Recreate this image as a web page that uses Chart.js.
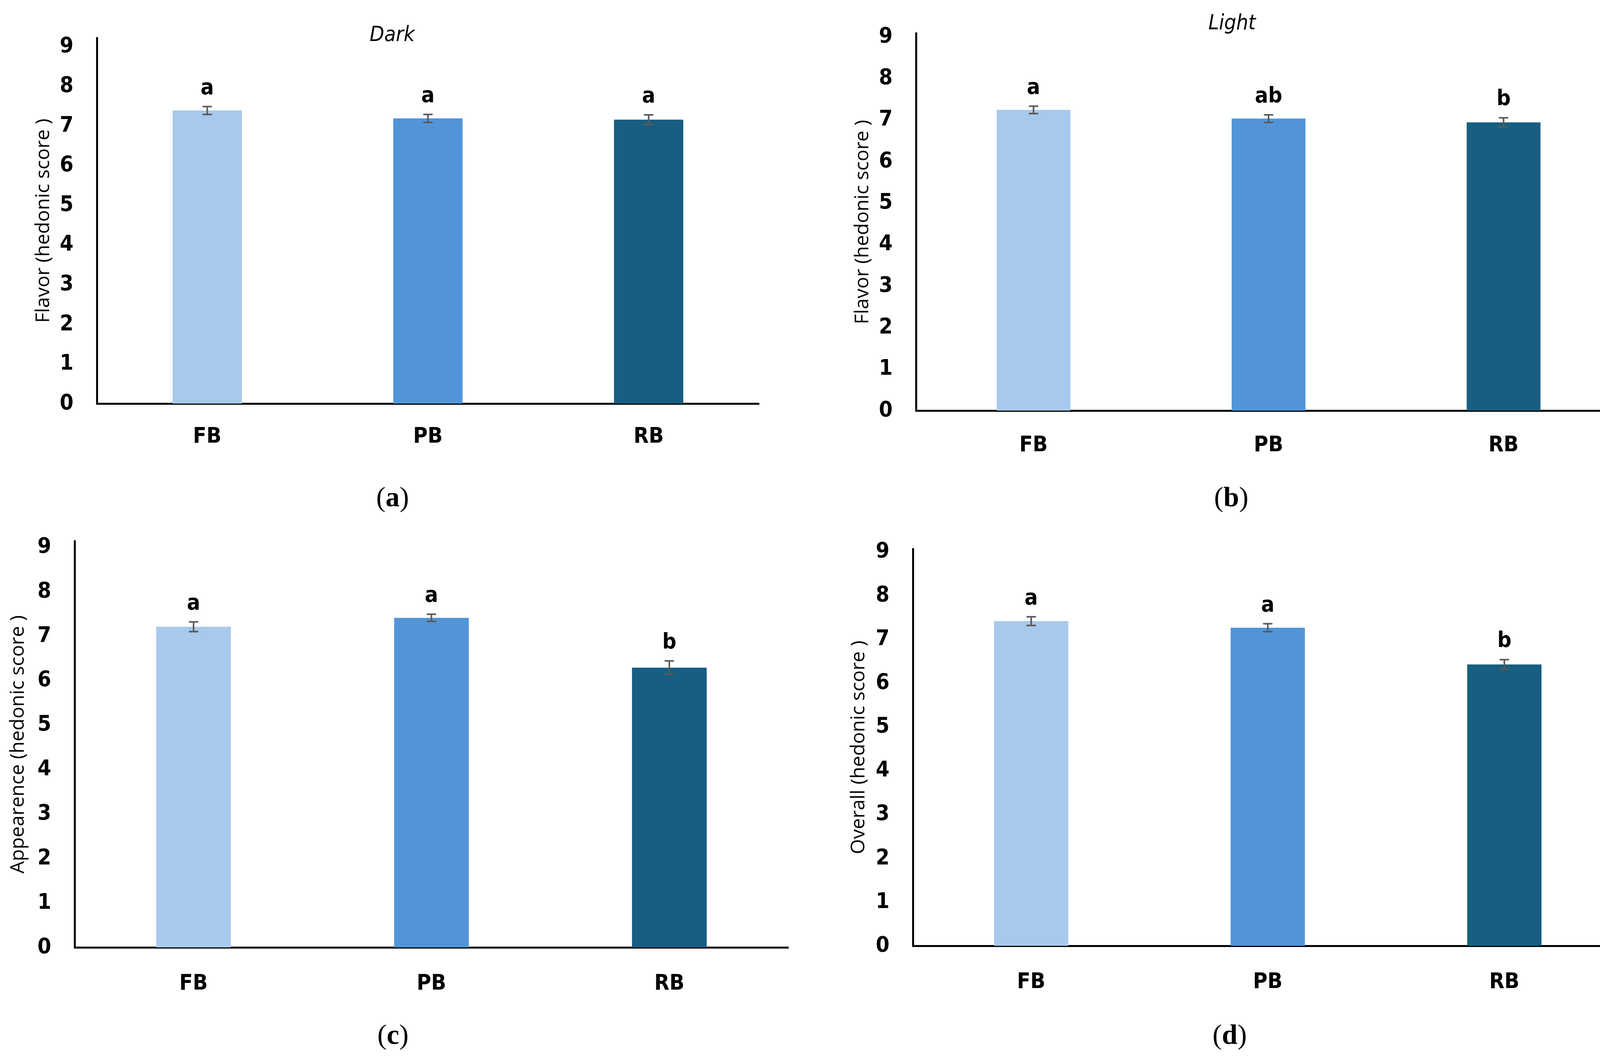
<!DOCTYPE html>
<html>
<head>
<meta charset="utf-8">
<script src="https://cdn.jsdelivr.net/npm/chart.js@4.4.1/dist/chart.umd.min.js"></script>
<style>
  html, body { margin: 0; padding: 0; background: #fff; }
  body { width: 4174px; height: 2703px; position: relative; overflow: hidden; }
  canvas { position: absolute; }
  .ttl { position: absolute; font: italic 54px "DejaVu Sans Condensed", "DejaVu Sans", sans-serif; line-height: 54px; transform: translateX(-50%); white-space: nowrap; }
  .lbl { position: absolute; font: 72px "Liberation Serif", serif; line-height: 72px; transform: translateX(-50%); white-space: nowrap; }
</style>
</head>
<body>
<canvas id="chartA" width="2087" height="1200" style="left:0;top:0"></canvas>
<canvas id="chartB" width="2087" height="1200" style="left:2087px;top:0"></canvas>
<canvas id="chartC" width="2087" height="1250" style="left:0;top:1300px"></canvas>
<canvas id="chartD" width="2087" height="1250" style="left:2087px;top:1300px"></canvas>

<div class="ttl" style="left:1004px;top:60px">Dark</div>
<div class="ttl" style="left:3154px;top:30px">Light</div>
<div class="lbl" style="left:1005px;top:1236px">(<b>a</b>)</div>
<div class="lbl" style="left:3152px;top:1236px">(<b>b</b>)</div>
<div class="lbl" style="left:1006px;top:2612px">(<b>c</b>)</div>
<div class="lbl" style="left:3148px;top:2612px">(<b>d</b>)</div>

<script>
// sample categories and y tick values
const categories = ['FB', 'PB', 'RB'];
const yTickValues = [0, 1, 2, 3, 4, 5, 6, 7, 8, 9];

// (a) flavor, dark
const darkFlavor = [7.39, 7.19, 7.16];
const darkFlavorErr = [0.10, 0.10, 0.12];
const darkFlavorLetters = ['a', 'a', 'a'];

// (b) flavor, light
const lightFlavor = [7.24, 7.03, 6.94];
const lightFlavorErr = [0.09, 0.09, 0.11];
const lightFlavorLetters = ['a', 'ab', 'b'];

// (c) appearance
const appearance = [7.21, 7.41, 6.29];
const appearanceErr = [0.11, 0.08, 0.15];
const appearanceLetters = ['a', 'a', 'b'];

// (d) overall
const overall = [7.42, 7.27, 6.43];
const overallErr = [0.10, 0.09, 0.11];
const overallLetters = ['a', 'a', 'b'];

const barColors = ['#A7C9EB', '#5195D8', '#175E80'];
const narrow = '"DejaVu Sans Condensed", "DejaVu Sans", sans-serif';

// draws the SE whiskers and the letter over each bar
const errorBars = {
    id: 'errorBars',
    afterDatasetsDraw(chart, args, opts) {
        const ctx = chart.ctx;
        const y = chart.scales.y;
        const values = chart.data.datasets[0].data;
        chart.getDatasetMeta(0).data.forEach((bar, i) => {
            const top = y.getPixelForValue(values[i] + opts.errors[i]);
            const bot = y.getPixelForValue(values[i] - opts.errors[i]);
            ctx.save();
            ctx.strokeStyle = '#595959';
            ctx.lineWidth = 4;
            ctx.beginPath();
            ctx.moveTo(bar.x, top); ctx.lineTo(bar.x, bot);
            ctx.moveTo(bar.x - 12, top); ctx.lineTo(bar.x + 12, top);
            ctx.moveTo(bar.x - 12, bot); ctx.lineTo(bar.x + 12, bot);
            ctx.stroke();
            ctx.fillStyle = '#000';
            ctx.font = 'bold 56px ' + narrow;
            ctx.textAlign = 'center';
            ctx.textBaseline = 'alphabetic';
            ctx.fillText(opts.letters[i], bar.x, top - 32);
            ctx.restore();
        });
    }
};

function makeChart(id, p) {
    const pad = {
        left: p.area.l - p.cv.x - p.yw,
        right: p.cv.x + p.cv.w - p.area.r,
        top: p.area.t - p.cv.y,
        bottom: p.cv.y + p.cv.h - p.area.b - p.xh
    };
    return new Chart(document.getElementById(id), {
        type: 'bar',
        data: {
            labels: categories,
            datasets: [{
                data: p.values,
                backgroundColor: barColors,
                borderWidth: 0,
                categoryPercentage: 1,
                barPercentage: 0.314
            }]
        },
        options: {
            responsive: false,
            devicePixelRatio: 1,
            animation: false,
            layout: { padding: pad },
            plugins: {
                legend: { display: false },
                tooltip: { enabled: false },
                errorBars: { errors: p.errors, letters: p.letters }
            },
            scales: {
                x: {
                    grid: { display: false },
                    border: { display: true, color: '#000', width: 5 },
                    ticks: { color: '#000', padding: p.tickPad, font: { family: narrow, size: 56, weight: 'bold' } },
                    afterFit: s => { s.height = p.xh; }
                },
                y: {
                    min: 0,
                    max: p.max,
                    grid: { display: false },
                    border: { display: true, color: '#000', width: 5 },
                    afterBuildTicks: s => { s.ticks = yTickValues.map(v => ({ value: v })); },
                    ticks: { color: '#000', padding: 52, font: { family: narrow, size: 56, weight: 'bold' } },
                    title: {
                        display: true,
                        text: p.yTitle,
                        color: '#000',
                        font: { family: '"Open Sans", sans-serif', size: 50 }
                    },
                    afterFit: s => { s.width = p.yw; }
                }
            }
        },
        plugins: [errorBars]
    });
}

makeChart('chartA', {
    cv: { x: 0, y: 0, w: 2087, h: 1200 }, area: { l: 248, r: 1943, t: 97, b: 1033 },
    yw: 170, xh: 120, tickPad: 44, max: 9.22,
    values: darkFlavor, errors: darkFlavorErr, letters: darkFlavorLetters,
    yTitle: 'Flavor (hedonic score )'
});
makeChart('chartB', {
    cv: { x: 2087, y: 0, w: 2087, h: 1200 }, area: { l: 2345, r: 4150, t: 56, b: 1051 },
    yw: 170, xh: 120, tickPad: 48, max: 9.08,
    values: lightFlavor, errors: lightFlavorErr, letters: lightFlavorLetters,
    yTitle: 'Flavor (hedonic score )'
});
makeChart('chartC', {
    cv: { x: 0, y: 1300, w: 2087, h: 1250 }, area: { l: 191, r: 2018, t: 1370, b: 2425 },
    yw: 178, xh: 120, tickPad: 52, max: 9.13,
    values: appearance, errors: appearanceErr, letters: appearanceLetters,
    yTitle: 'Appearence (hedonic score )'
});
makeChart('chartD', {
    cv: { x: 2087, y: 1300, w: 2087, h: 1250 }, area: { l: 2337, r: 4154, t: 1405, b: 2421 },
    yw: 172, xh: 120, tickPad: 52, max: 9.07,
    values: overall, errors: overallErr, letters: overallLetters,
    yTitle: 'Overall (hedonic score )'
});
</script>
</body>
</html>
